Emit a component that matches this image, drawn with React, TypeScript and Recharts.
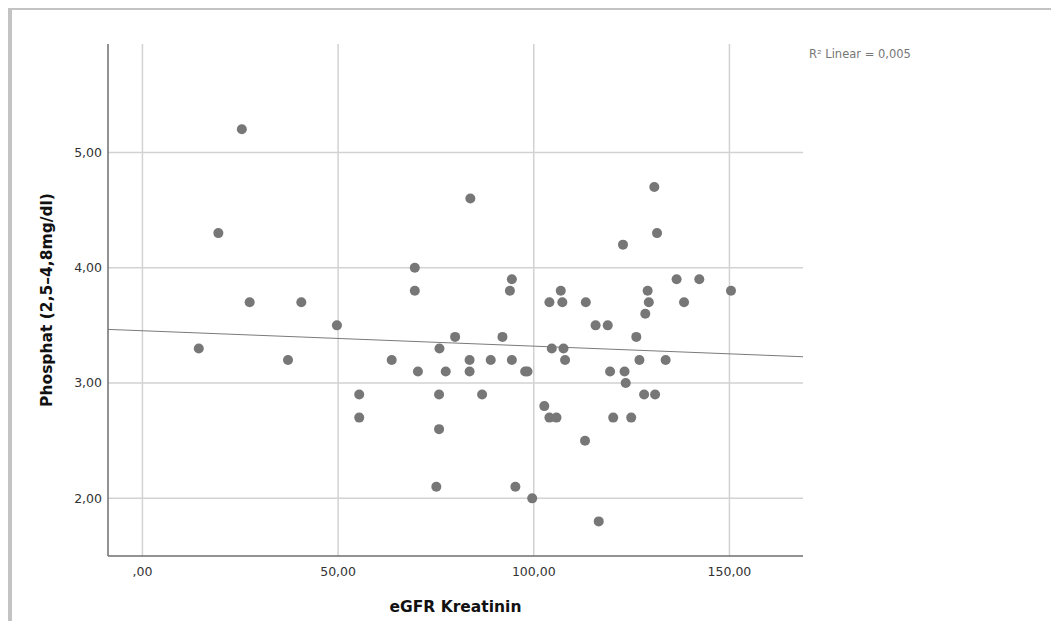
import React from "react";
import {
  ScatterChart,
  Scatter,
  XAxis,
  YAxis,
  ReferenceLine,
} from "recharts";

// eGFR (Kreatinin) vs. Phosphat, one entry per patient
const egfr = [
  25.4, 19.4, 27.4, 14.4, 37.2, 40.6, 49.7, 55.4, 55.4, 63.7, 69.6, 69.6, 70.4,
  75.9, 75.8, 75.8, 75.1, 77.5, 79.9, 83.8, 83.6, 83.6, 86.8, 89.0, 92.0, 93.9,
  94.4, 94.4, 95.3, 97.8, 98.4, 99.6, 102.7, 104.0, 104.0, 104.6, 105.8, 106.9,
  107.3, 107.6, 108.0, 113.3, 113.1, 115.8, 116.6, 118.9, 119.5, 120.3, 122.8,
  123.2, 123.5, 124.9, 126.2, 127.0, 128.2, 128.5, 129.1, 129.4, 130.8, 131.0,
  131.5, 133.7, 136.5, 138.4, 142.3, 150.4,
];
const phosphat = [
  5.2, 4.3, 3.7, 3.3, 3.2, 3.7, 3.5, 2.9, 2.7, 3.2, 4.0, 3.8, 3.1,
  3.3, 2.9, 2.6, 2.1, 3.1, 3.4, 4.6, 3.2, 3.1, 2.9, 3.2, 3.4, 3.8,
  3.9, 3.2, 2.1, 3.1, 3.1, 2.0, 2.8, 3.7, 2.7, 3.3, 2.7, 3.8,
  3.7, 3.3, 3.2, 3.7, 2.5, 3.5, 1.8, 3.5, 3.1, 2.7, 4.2,
  3.1, 3.0, 2.7, 3.4, 3.2, 2.9, 3.6, 3.8, 3.7, 4.7, 2.9,
  4.3, 3.2, 3.9, 3.7, 3.9, 3.8,
];

const xTicks = [0, 50, 100, 150];
const yTicks = [2, 3, 4, 5];
const xDomain = [-8.8, 168.8];
const yDomain = [1.5, 5.94];

// linear fit, evaluated at both ends of the x range
const fitX = [-8.8, 168.8];
const fitY = [3.465, 3.228];
const r2Label = "R² Linear = 0,005";

const points = egfr.map((x, i) => ({ x, y: phosphat[i] }));

const fmt = (v: number) => {
  const s = v.toFixed(2).replace(".", ",");
  return s.startsWith("0,") ? s.slice(1) : s;
};

const FONT = "'DejaVu Sans', sans-serif";
const GRID = "#d2d2d2";

const Dot = (props: any) => (
  <circle cx={props.cx} cy={props.cy} r={5} fill="#777777" />
);

export default function App() {
  return (
    <div
      style={{
        position: "relative",
        width: 1059,
        height: 629,
        margin: -8,
        background: "#fff",
        fontFamily: FONT,
      }}
    >
      <div
        style={{
          position: "absolute",
          left: 8,
          top: 6,
          width: 1051,
          height: 623,
          borderTop: "4px solid #c3c3c3",
          borderLeft: "4px solid #c3c3c3",
          boxSizing: "border-box",
        }}
      />
      <div style={{ position: "absolute", left: 0, top: 0 }}>
        <ScatterChart
          width={1059}
          height={629}
          margin={{ top: 44, right: 256, bottom: 23, left: 48 }}
        >
          <XAxis
            type="number"
            dataKey="x"
            domain={xDomain}
            ticks={xTicks}
            allowDataOverflow
            tickFormatter={fmt}
            tickLine={false}
            tickMargin={5}
            height={50}
            axisLine={{ stroke: "#6e6e6e", strokeWidth: 1.5 }}
            tick={{ fill: "#333", fontSize: 12.5, fontFamily: FONT }}
            label={{
              value: "eGFR Kreatinin",
              position: "center",
              dy: 25,
              fill: "#111",
              fontSize: 15.5,
              fontWeight: "bold",
              fontFamily: FONT,
            }}
          />
          <YAxis
            type="number"
            dataKey="y"
            domain={yDomain}
            ticks={yTicks}
            allowDataOverflow
            tickFormatter={fmt}
            tickLine={false}
            tickMargin={0}
            width={60}
            axisLine={{ stroke: "#6e6e6e", strokeWidth: 1.5 }}
            tick={{ fill: "#333", fontSize: 12.5, fontFamily: FONT }}
            label={{
              value: "Phosphat (2,5–4,8mg/dl)",
              angle: -90,
              position: "center",
              dx: -32,
              fill: "#111",
              fontSize: 15.5,
              fontWeight: "bold",
              fontFamily: FONT,
            }}
          />
          {/* grid only at the tick values, no frame lines at the edges */}
          {xTicks.map((t) => (
            <ReferenceLine key={`gx-${t}`} x={t} stroke={GRID} strokeWidth={1.5} />
          ))}
          {yTicks.map((t) => (
            <ReferenceLine key={`gy-${t}`} y={t} stroke={GRID} strokeWidth={1.5} />
          ))}
          <ReferenceLine
            segment={[
              { x: fitX[0], y: fitY[0] },
              { x: fitX[1], y: fitY[1] },
            ]}
            stroke="#7a7a7a"
            strokeWidth={1}
          />
          <Scatter data={points} shape={Dot} isAnimationActive={false} />
        </ScatterChart>
      </div>
      <div
        style={{
          position: "absolute",
          left: 809,
          top: 47,
          fontSize: 11.5,
          color: "#777",
          whiteSpace: "nowrap",
        }}
      >
        {r2Label}
      </div>
    </div>
  );
}
